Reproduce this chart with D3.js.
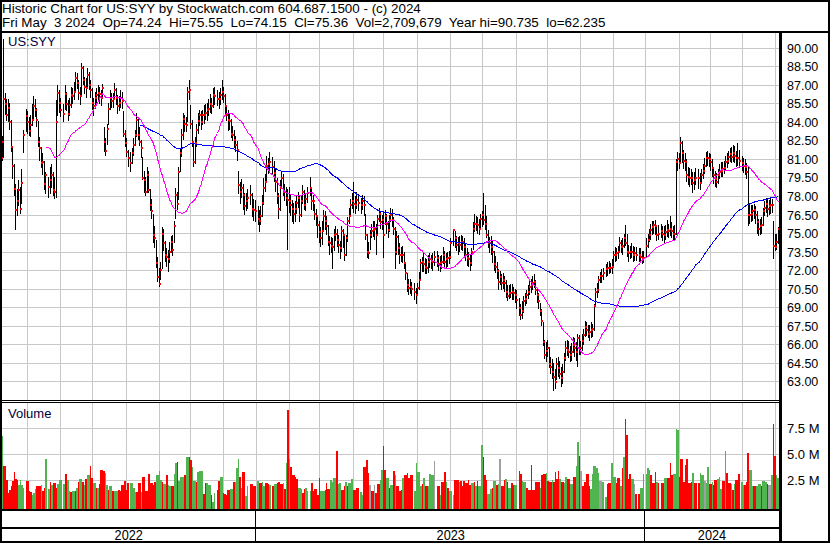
<!DOCTYPE html>
<html>
<head>
<meta charset="utf-8">
<script src="https://cdn.jsdelivr.net/npm/d3@7"></script>
<style>
  body { margin: 0; background: #fff; }
  svg { display: block; }
  text { font-family: Arial, "Liberation Sans", sans-serif; }
</style>
</head>
<body>
<div id="chart"></div>
<script>
const title = 'Historic Chart for US:SYY by Stockwatch.com 604.687.1500 - (c) 2024'
const quoteLine = 'Fri May  3 2024  Op=74.24  Hi=75.55  Lo=74.15  Cl=75.36  Vol=2,709,679  Year hi=90.735  lo=62.235'
const symbol = 'US:SYY'
const startDate = '2022-05-06'
const endDate = '2024-05-03'
const holidays = ['2022-05-30', '2022-06-20', '2022-07-04', '2022-09-05', '2022-11-24', '2022-12-26',
    '2023-01-02', '2023-01-16', '2023-02-20', '2023-04-07', '2023-05-29', '2023-06-19', '2023-07-04',
    '2023-09-04', '2023-11-23', '2023-12-25', '2024-01-01', '2024-01-15', '2024-02-19', '2024-03-29']
const priceTicks = [63, 64.5, 66, 67.5, 69, 70.5, 72, 73.5, 75, 76.5, 78, 79.5, 81, 82.5, 84, 85.5, 87, 88.5, 90]
const volTicks = [2.5, 5.0, 7.5]
const years = ['2022', '2023', '2024']

// daily closes, highs, lows (US$)
const closes = [
    81.1, 82.4, 85.9, 85.5, 84.6, 85.2, 84.0, 82.0, 80.5, 78.6,
    76.9, 77.6, 78.5, 77.0, 79.1, 83.0, 84.5, 84.0, 83.3, 83.8,
    84.2, 85.3, 85.0, 84.2, 82.4, 81.9, 80.7, 80.8, 79.0, 79.7,
    78.8, 79.3, 79.7, 78.5, 78.4, 84.0, 86.35, 85.6, 85.0, 84.7,
    86.3, 85.5, 84.7, 85.4, 86.2, 86.1, 86.5, 87.6, 87.2, 86.4,
    86.1, 88.4, 87.4, 86.9, 86.8, 87.8, 87.0, 86.6, 85.6, 85.3,
    86.0, 86.2, 86.4, 86.3, 86.0, 86.8, 82.4, 81.7, 83.5, 85.1,
    86.0, 85.7, 85.9, 86.6, 86.0, 85.3, 85.6, 86.0, 85.7, 83.1,
    82.3, 81.6, 81.1, 80.7, 81.5, 82.2, 83.0, 84.2, 83.0, 82.4,
    81.9, 79.5, 79.3, 78.4, 79.7, 78.5, 77.3, 76.8, 74.9, 74.6,
    72.6, 71.5, 70.9, 72.05, 75.0, 74.2, 73.3, 73.1, 72.9, 73.5,
    74.3, 73.7, 75.6, 78.1, 77.4, 80.0, 81.5, 83.0, 84.3, 83.9,
    83.8, 86.5, 86.6, 83.9, 82.4, 80.8, 82.3, 83.4, 84.1, 84.6,
    84.0, 84.6, 84.6, 84.8, 85.0, 85.1, 85.5, 85.3, 86.2, 86.1,
    85.9, 85.9, 86.2, 86.5, 86.1, 85.3, 84.6, 84.2, 84.1, 83.1,
    83.0, 82.6, 82.2, 81.8, 78.9, 78.4, 78.7, 78.1, 77.2, 77.6,
    77.9, 78.1, 77.0, 76.9, 76.8, 76.2, 76.0, 76.4, 77.5, 78.7,
    79.2, 80.5, 80.6, 80.8, 80.4, 79.9, 79.2, 78.0, 77.0, 78.7,
    79.5, 78.4, 78.4, 77.9, 77.7, 77.6, 77.3, 77.0, 76.6, 77.0,
    77.5, 77.9, 76.5, 77.6, 78.4, 77.3, 77.8, 78.3, 78.7, 77.6,
    77.6, 76.6, 76.4, 75.7, 75.1, 74.6, 75.2, 76.4, 76.0, 75.6,
    74.3, 74.2, 74.0, 73.9, 74.9, 75.0, 74.5, 74.1, 73.8, 75.2,
    74.9, 73.3, 74.6, 76.0, 76.4, 77.3, 77.6, 77.4, 77.3, 77.7,
    77.5, 77.3, 77.6, 77.3, 74.9, 73.5, 73.4, 74.9, 75.2, 75.3,
    75.4, 74.9, 76.2, 76.6, 75.9, 76.1, 74.9, 76.4, 75.8, 75.3,
    76.1, 76.5, 76.1, 75.4, 73.5, 74.7, 73.8, 73.3, 73.3, 73.3,
    72.6, 71.8, 70.8, 70.6, 70.7, 70.5, 70.3, 70.0, 70.6, 71.2,
    72.6, 72.7, 72.5, 72.3, 72.2, 72.7, 72.9, 72.8, 72.7, 73.1,
    73.0, 72.5, 72.6, 72.7, 73.3, 72.7, 72.9, 73.0, 73.1, 74.2,
    75.3, 74.6, 74.1, 74.2, 74.1, 74.3, 74.3, 73.9, 73.3, 73.0,
    72.9, 72.6, 73.5, 75.4, 75.8, 75.8, 75.7, 75.4, 76.2, 76.5,
    76.1, 75.8, 74.9, 74.2, 74.2, 73.9, 73.5, 72.5, 72.3, 72.0,
    71.1, 71.5, 71.0, 71.2, 71.0, 70.3, 69.9, 70.2, 70.2, 70.3,
    70.2, 70.0, 69.6, 69.0, 68.4, 68.7, 69.5, 69.7, 70.0, 70.3,
    70.7, 70.8, 71.0, 71.1, 70.4, 70.0, 69.5, 68.7, 67.9, 66.2,
    65.2, 65.5, 65.7, 64.4, 64.2, 63.8, 63.4, 63.0, 64.4, 64.1,
    63.6, 63.3, 63.8, 64.9, 65.7, 65.6, 65.4, 65.2, 65.4, 66.0,
    65.7, 65.4, 66.5, 65.7, 65.7, 66.3, 66.8, 67.4, 67.2, 66.9,
    67.0, 67.2, 67.3, 69.1, 70.3, 70.4, 71.2, 71.6, 71.6, 71.8,
    72.1, 72.2, 72.2, 72.2, 72.3, 73.3, 73.3, 73.4, 73.5, 74.2,
    73.9, 74.0, 74.6, 74.2, 73.5, 73.4, 73.5, 73.5, 73.3, 73.4,
    73.3, 73.3, 73.1, 73.0, 73.0, 74.0, 74.5, 74.9, 75.3, 75.5,
    75.7, 75.6, 74.9, 75.0, 75.2, 75.0, 74.9, 75.1, 75.3, 75.2,
    75.4, 75.2, 75.0, 75.0, 80.8, 81.0, 80.7, 82.3, 81.5, 80.9,
    80.8, 79.7, 79.6, 79.5, 79.5, 79.1, 79.3, 79.5, 79.5, 79.1,
    79.7, 80.1, 80.5, 81.1, 81.1, 81.0, 80.8, 80.3, 79.7, 79.4,
    79.2, 79.7, 80.0, 80.1, 80.2, 80.3, 80.8, 80.9, 81.2, 81.4,
    81.2, 81.5, 81.3, 81.1, 81.1, 80.9, 80.7, 80.5, 80.4, 80.0,
    76.5, 76.5, 76.6, 76.8, 76.9, 76.5, 75.9, 75.4, 75.6, 75.7,
    76.8, 77.1, 77.4, 77.0, 77.2, 77.3, 77.3, 74.0, 73.9, 74.3,
    75.36
]
const highs = [
    83.0, 82.9, 90.735, 86.4, 85.9, 85.9, 85.6, 84.2, 82.0, 80.6,
    79.0, 78.6, 79.3, 78.8, 80.2, 83.4, 85.1, 84.9, 84.4, 84.6,
    85.5, 86.1, 85.9, 85.2, 84.1, 82.8, 82.0, 81.5, 80.9, 80.0,
    79.6, 80.4, 80.6, 80.0, 79.6, 85.8, 87.0, 86.6, 86.0, 85.5,
    87.0, 86.5, 85.8, 86.0, 86.9, 86.8, 87.3, 88.1, 88.0, 87.4,
    86.9, 88.85, 88.6, 87.7, 87.6, 88.4, 88.1, 87.4, 86.8, 86.0,
    86.5, 86.8, 87.0, 86.9, 86.6, 87.1, 83.6, 82.7, 83.9, 85.6,
    86.6, 86.4, 86.4, 87.2, 86.8, 86.2, 86.1, 86.6, 86.5, 84.9,
    83.4, 82.7, 81.8, 81.6, 81.9, 82.7, 83.4, 84.8, 84.4, 83.6,
    82.6, 81.2, 80.1, 79.6, 80.4, 80.1, 78.6, 77.8, 76.6, 75.6,
    74.5, 73.1, 72.2, 72.7, 75.5, 75.4, 74.4, 73.8, 73.7, 74.3,
    74.8, 74.9, 76.0, 78.7, 78.4, 80.4, 81.9, 83.5, 84.8, 84.6,
    84.4, 86.9, 87.4, 85.4, 84.2, 82.3, 82.8, 83.9, 84.8, 85.0,
    84.9, 85.0, 85.4, 85.5, 85.6, 85.9, 86.3, 86.0, 86.8, 86.9,
    86.6, 86.5, 86.8, 87.4, 86.9, 86.3, 85.4, 85.0, 84.7, 84.3,
    83.7, 83.4, 82.9, 82.5, 80.1, 79.2, 79.4, 79.0, 78.3, 78.3,
    78.6, 78.9, 78.3, 77.8, 77.7, 77.2, 76.9, 77.2, 78.1, 79.5,
    79.8, 81.3, 81.1, 81.6, 81.2, 80.9, 80.3, 79.5, 78.3, 79.3,
    80.1, 79.8, 79.0, 78.8, 78.6, 78.8, 78.2, 77.7, 77.5, 77.6,
    78.1, 78.4, 78.0, 78.0, 78.9, 78.5, 78.3, 78.8, 79.6, 78.8,
    78.1, 77.4, 77.0, 76.5, 76.0, 75.5, 76.0, 76.9, 76.8, 76.4,
    75.7, 74.8, 74.7, 74.6, 75.4, 75.6, 75.4, 74.9, 74.4, 75.6,
    75.4, 74.9, 74.9, 76.3, 77.1, 77.8, 78.3, 79.2, 78.0, 78.4,
    78.2, 77.9, 78.1, 78.0, 76.6, 75.0, 74.3, 75.3, 75.8, 76.0,
    76.0, 75.8, 76.5, 77.1, 76.8, 76.5, 76.8, 76.9, 76.6, 76.0,
    76.5, 77.1, 77.0, 76.3, 75.5, 75.2, 74.9, 74.2, 73.9, 74.0,
    73.5, 72.6, 71.8, 71.3, 71.3, 71.1, 71.0, 70.6, 71.0, 71.9,
    72.9, 73.1, 73.4, 73.0, 72.9, 73.3, 73.4, 73.3, 73.4, 73.6,
    73.6, 73.3, 73.2, 73.3, 73.9, 73.6, 73.4, 73.5, 73.6, 74.6,
    75.4, 75.2, 74.8, 74.7, 74.8, 74.9, 74.8, 74.6, 74.2, 73.8,
    73.5, 73.3, 73.8, 75.9, 76.6, 76.4, 76.3, 76.2, 76.6, 76.8,
    78.25, 77.3, 76.4, 75.3, 74.7, 74.8, 74.4, 73.6, 73.2, 72.7,
    72.1, 72.0, 71.7, 71.8, 71.6, 71.2, 70.8, 70.8, 70.9, 70.9,
    70.7, 70.5, 70.4, 69.8, 69.3, 69.5, 69.9, 70.2, 70.4, 70.8,
    71.3, 71.3, 71.6, 71.7, 71.2, 70.6, 70.2, 69.4, 68.9, 67.8,
    66.4, 66.2, 66.4, 65.8, 65.0, 64.8, 64.5, 64.0, 64.9, 65.0,
    64.7, 64.2, 64.4, 65.3, 66.3, 66.4, 66.3, 65.9, 66.1, 66.6,
    66.5, 66.2, 66.9, 66.8, 66.3, 66.9, 67.3, 67.9, 67.8, 67.6,
    67.6, 67.8, 67.7, 69.3, 70.6, 71.0, 71.6, 71.9, 72.1, 72.2,
    72.5, 72.7, 72.8, 72.6, 72.9, 73.6, 73.9, 73.8, 74.0, 74.7,
    74.5, 74.6, 75.0, 75.7, 75.0, 74.1, 74.0, 74.2, 74.0, 73.9,
    73.9, 73.8, 73.8, 73.6, 73.6, 74.6, 75.0, 75.4, 75.8, 76.0,
    76.0, 76.1, 75.7, 75.7, 75.8, 75.6, 75.6, 75.7, 76.1, 75.8,
    76.4, 75.9, 75.6, 75.7, 81.0, 81.6, 81.5, 82.85, 82.5, 81.8,
    81.5, 81.0, 80.4, 80.3, 80.2, 80.0, 80.0, 80.3, 80.2, 79.9,
    80.2, 80.6, 81.1, 81.6, 81.7, 81.5, 81.4, 81.0, 80.4, 80.1,
    79.9, 80.2, 80.6, 80.8, 80.8, 80.9, 81.3, 81.5, 81.7, 81.9,
    82.0, 82.2, 82.1, 81.7, 82.3, 81.8, 81.3, 81.1, 81.0, 80.7,
    80.4, 77.4, 77.3, 77.3, 77.4, 77.2, 76.8, 76.2, 76.2, 76.3,
    77.1, 77.6, 77.9, 77.8, 77.7, 77.9, 77.8, 76.0, 75.0, 75.0,
    75.55
]
const lows = [
    80.6, 80.9, 81.1, 84.6, 84.1, 84.0, 83.4, 81.6, 79.4, 78.0,
    75.3, 76.4, 77.2, 76.6, 77.4, 81.5, 83.2, 83.1, 82.9, 82.8,
    83.7, 84.3, 84.4, 83.6, 82.0, 80.9, 80.3, 79.7, 78.5, 78.2,
    77.9, 78.2, 78.7, 78.0, 77.8, 77.9, 84.5, 84.8, 84.4, 84.0,
    85.0, 84.9, 84.1, 84.5, 85.2, 85.5, 85.8, 86.4, 86.7, 85.8,
    85.4, 86.1, 87.0, 86.3, 86.0, 86.7, 86.6, 86.0, 85.0, 84.5,
    85.1, 85.6, 85.8, 85.5, 85.3, 85.9, 81.6, 81.3, 82.2, 83.8,
    85.0, 85.2, 85.2, 85.9, 85.4, 84.7, 84.9, 85.2, 85.1, 82.8,
    82.0, 81.2, 80.4, 80.0, 80.6, 81.3, 82.1, 82.8, 82.6, 82.1,
    81.1, 79.3, 78.3, 78.0, 78.3, 78.3, 76.8, 76.2, 74.2, 73.8,
    72.2, 71.1, 70.65, 71.2, 72.1, 73.6, 72.7, 72.3, 71.9, 72.6,
    73.4, 73.2, 74.2, 76.2, 76.9, 77.7, 80.0, 81.2, 82.6, 83.2,
    83.2, 84.0, 85.8, 83.5, 82.0, 80.4, 80.6, 82.0, 83.1, 83.7,
    83.4, 83.8, 83.9, 84.2, 84.1, 84.5, 84.8, 84.7, 85.2, 85.4,
    85.3, 85.1, 85.4, 85.8, 85.6, 84.6, 84.1, 83.3, 83.4, 82.7,
    82.5, 81.9, 81.6, 80.9, 78.2, 77.4, 77.9, 76.9, 76.5, 76.8,
    77.0, 77.3, 76.3, 76.0, 75.9, 75.7, 75.1, 75.7, 76.3, 77.3,
    78.4, 79.1, 79.8, 80.1, 79.8, 79.2, 78.4, 77.4, 76.2, 76.8,
    78.6, 78.0, 77.6, 77.2, 73.7, 76.7, 76.4, 75.9, 75.8, 75.9,
    76.6, 77.1, 75.9, 76.3, 77.4, 76.9, 76.8, 77.5, 78.0, 76.9,
    76.8, 76.1, 75.6, 74.6, 74.2, 73.9, 74.1, 75.1, 75.3, 74.9,
    74.0, 73.3, 73.4, 72.1, 73.6, 74.4, 73.9, 73.4, 72.9, 73.5,
    73.8, 72.8, 73.2, 74.3, 75.8, 76.4, 77.0, 76.7, 76.6, 77.0,
    76.8, 76.6, 76.9, 76.4, 74.5, 73.0, 72.9, 73.7, 74.6, 74.7,
    74.5, 73.3, 74.8, 75.9, 75.4, 75.3, 73.0, 75.7, 75.0, 74.6,
    75.1, 75.9, 75.5, 74.9, 72.1, 73.3, 73.3, 72.5, 72.7, 72.6,
    72.1, 71.2, 70.3, 70.0, 70.1, 69.9, 69.6, 69.3, 69.9, 70.4,
    71.3, 71.9, 71.9, 71.7, 71.7, 71.8, 72.2, 72.1, 72.0, 72.4,
    72.3, 72.0, 71.9, 72.1, 72.5, 72.1, 72.2, 72.3, 72.5, 72.9,
    74.0, 73.8, 73.6, 73.3, 73.5, 73.7, 73.6, 73.1, 72.8, 72.4,
    72.3, 72.0, 72.4, 73.7, 75.1, 75.2, 75.0, 74.9, 75.4, 75.5,
    75.7, 75.3, 74.6, 73.8, 73.4, 73.3, 72.6, 72.0, 71.8, 71.3,
    70.4, 70.8, 70.4, 70.5, 70.3, 69.8, 69.5, 69.7, 69.8, 69.6,
    69.6, 69.4, 68.9, 68.3, 68.0, 68.1, 68.6, 69.1, 69.3, 69.7,
    70.0, 70.2, 70.4, 70.6, 70.0, 69.4, 68.9, 68.3, 67.5, 65.9,
    64.8, 64.6, 65.0, 64.1, 63.6, 63.2, 62.235, 62.4, 63.1, 63.4,
    63.2, 62.6, 62.8, 63.7, 64.7, 65.1, 64.9, 64.6, 64.7, 65.3,
    65.0, 64.7, 64.2, 65.2, 65.2, 65.5, 66.0, 66.6, 66.7, 66.5,
    66.3, 66.5, 66.6, 67.1, 69.1, 69.8, 70.2, 71.0, 71.0, 71.2,
    71.5, 71.6, 71.7, 71.8, 71.7, 72.2, 72.7, 72.8, 72.9, 73.4,
    73.4, 73.3, 73.8, 74.0, 73.1, 72.7, 72.9, 73.0, 72.7, 72.8,
    72.8, 72.7, 72.6, 72.5, 72.6, 73.0, 73.8, 74.3, 74.5, 74.9,
    75.0, 74.9, 74.4, 74.5, 74.6, 74.4, 74.2, 74.5, 74.7, 74.6,
    74.8, 74.6, 74.4, 74.5, 74.9, 80.1, 80.2, 80.6, 80.7, 80.2,
    80.1, 79.2, 78.9, 78.8, 78.9, 78.3, 78.5, 78.9, 78.6, 78.5,
    79.0, 79.4, 79.8, 80.4, 80.5, 80.4, 80.1, 79.6, 79.0, 78.8,
    78.7, 79.0, 79.4, 79.6, 79.6, 79.8, 80.1, 80.3, 80.6, 80.8,
    80.7, 80.8, 80.7, 80.4, 80.5, 80.3, 80.1, 79.9, 79.7, 79.4,
    75.6, 75.8, 75.9, 76.0, 76.2, 75.8, 75.0, 74.8, 74.9, 75.0,
    75.6, 76.4, 76.7, 76.3, 76.5, 76.6, 76.7, 72.9, 73.6, 73.7,
    74.15
]
// daily volume, millions of shares
const volumes = [
    3.4, 6.8, 3.9, 3.9, 2.6, 1.3, 1.6, 1.95, 2.5, 3.3,
    2.7, 2.6, 2.1, 2.6, 2.1, 1.8, 2.5, 2.5, 1.5, 1.4,
    1.1, 1.3, 1.7, 2.0, 2.0, 1.95, 2.1, 1.5, 1.8, 4.6,
    1.7, 2.35, 2.1, 2.25, 2.25, 1.85, 2.2, 2.6, 2.6, 2.2,
    3.1, 3.1, 2.6, 1.5, 1.4, 1.5, 1.5, 1.5, 1.8, 2.4,
    2.7, 2.7, 2.35, 2.1, 2.65, 3.0, 3.0, 3.9, 2.8, 2.25,
    2.25, 1.8, 1.8, 2.2, 3.5, 3.5, 3.4, 3.2, 2.1, 1.6,
    1.95, 1.95, 1.5, 1.5, 1.5, 1.5, 1.6, 1.5, 2.1, 2.1,
    2.5, 1.6, 2.25, 2.25, 2.25, 1.85, 1.4, 1.4, 2.25, 2.25,
    1.4, 2.9, 2.9, 1.5, 1.5, 3.1, 2.25, 2.25, 2.1, 2.35,
    3.0, 3.0, 3.4, 2.6, 2.35, 2.2, 2.2, 3.0, 2.1, 2.0,
    2.0, 2.0, 3.1, 4.2, 4.3, 2.5, 2.9, 2.9, 2.9, 3.0,
    4.8, 4.8, 4.8, 4.5, 3.8, 2.5, 2.5, 2.35, 3.3, 3.4,
    3.4, 3.4, 1.2, 2.25, 2.25, 2.1, 2.1, 1.1, 0.5, 1.3,
    1.6, 2.5, 2.9, 2.9, 1.3, 1.2, 1.1, 1.6, 1.6, 1.7,
    1.7, 2.4, 2.4, 3.7, 4.6, 2.9, 1.85, 3.3, 3.3, 1.0,
    2.0, 2.2, 2.2, 1.95, 1.95, 2.5, 2.25, 2.25, 2.4, 1.95,
    2.25, 2.25, 2.2, 2.1, 1.95, 2.2, 2.2, 2.25, 2.35, 2.2,
    2.2, 2.25, 1.7, 4.2, 9.2, 4.6, 3.8, 3.0, 3.0, 2.9,
    2.65, 1.85, 1.85, 1.7, 1.3, 1.7, 1.8, 1.5, 1.5, 2.25,
    1.5, 1.7, 1.7, 1.1, 2.8, 1.5, 1.5, 1.5, 1.6, 2.25,
    1.7, 1.7, 2.6, 2.4, 2.8, 2.8, 5.3, 2.2, 2.25, 1.6,
    1.6, 1.95, 2.35, 1.95, 2.25, 2.25, 2.65, 1.6, 1.6, 1.85,
    1.85, 1.4, 1.1, 3.8, 3.8, 4.5, 3.2, 2.1, 1.5, 1.5,
    2.1, 1.3, 2.2, 2.2, 2.6, 3.5, 5.8, 3.5, 2.8, 2.8,
    1.8, 2.1, 2.1, 3.4, 3.0, 1.95, 1.95, 1.5, 1.6, 2.8,
    3.0, 3.0, 3.2, 2.8, 3.0, 3.0, 1.5, 4.2, 3.3, 3.3,
    2.0, 2.2, 2.8, 2.0, 2.0, 2.0, 3.1, 3.0, 3.0, 4.4,
    1.95, 1.95, 1.1, 2.35, 2.35, 3.3, 2.35, 1.8, 1.5, 1.5,
    1.1, 2.6, 2.6, 2.6, 2.35, 2.5, 1.95, 2.5, 2.25, 2.25,
    2.6, 2.1, 2.25, 2.25, 2.35, 2.0, 2.5, 2.0, 2.0, 5.9,
    4.8, 3.0, 2.6, 1.2, 1.2, 1.7, 1.8, 2.5, 2.5, 2.1,
    2.2, 4.6, 1.95, 1.95, 2.6, 2.65, 2.35, 1.8, 1.8, 2.25,
    2.1, 2.1, 2.1, 3.4, 3.1, 2.5, 2.35, 2.35, 1.8, 1.6,
    1.6, 4.0, 1.6, 1.6, 2.35, 2.35, 2.35, 1.8, 3.0, 3.1,
    3.1, 3.2, 2.5, 2.35, 2.35, 2.6, 2.4, 3.3, 2.7, 3.4,
    2.7, 2.35, 2.35, 2.25, 2.9, 2.7, 2.7, 2.2, 2.2, 2.9,
    2.9, 3.9, 6.2, 4.9, 3.4, 2.0, 2.0, 2.35, 3.1, 3.1,
    1.95, 1.7, 3.1, 3.9, 3.9, 3.7, 3.2, 2.5, 2.5, 2.35,
    0.9, 2.2, 2.25, 2.25, 4.2, 2.9, 2.9, 2.25, 2.8, 2.8,
    2.0, 3.7, 4.8, 8.4, 6.9, 2.65, 3.1, 2.7, 2.7, 2.2,
    1.2, 1.2, 1.85, 1.85, 3.1, 3.1, 3.7, 3.5, 3.0, 2.25,
    2.25, 3.3, 2.35, 2.25, 2.25, 2.25, 2.8, 2.8, 2.8, 2.8,
    4.2, 3.0, 3.1, 3.1, 7.4, 7.3, 2.9, 4.6, 4.6, 2.4,
    4.0, 4.6, 2.25, 2.25, 2.35, 3.2, 2.25, 2.25, 2.25, 3.2,
    3.0, 3.0, 2.5, 2.25, 3.8, 2.2, 2.2, 2.4, 2.1, 2.6,
    2.6, 2.7, 2.9, 1.7, 2.5, 2.5, 5.3, 3.2, 2.25, 2.25,
    2.2, 1.6, 2.2, 2.6, 2.6, 3.1, 2.35, 2.1, 2.1, 2.35,
    5.1, 3.5, 3.5, 2.0, 2.0, 2.0, 2.0, 2.2, 2.2, 2.0,
    2.5, 2.5, 2.35, 2.2, 2.1, 2.1, 3.0, 7.9, 4.9, 3.0,
    2.71
]
// volume bar colour per day: g = up, r = down, n = unchanged
const volDir = [
    'rgrrrrrrrr', 'rrggggrrrr', 'gggrrrgrrg', 'grgrrrgggg', 'rrggrggrgr',
    'ggrgrggrrg', 'grgrrrrggr', 'ggrgggrrrr', 'rrrggggrrr', 'grrrrrrrrr',
    'ggggrggrgg', 'rrggrggggr', 'ggrrgggrgg', 'ggrrgggrgg', 'rrggrrrrrg',
    'grgggrgrrg', 'grrrrgrrgg', 'rrrgrggrrr', 'rgrgrgrrrr', 'rgggrrgggr',
    'rrrrrgggrr', 'rrggggrggr', 'rrgrgggrrr', 'rggrrrrnrr', 'nrrrggrrgg',
    'rggrgrrrrg', 'rrrrrrgggg', 'grgrrggggn', 'rrgrrrgrgg', 'grrrgrrrrr',
    'rrggrgrggg', 'rrrgggrggr', 'gnrrrgrggr', 'rggrrgggrr', 'rrrrrrrgrr',
    'rgrrrgrrrr', 'grrggrrggr', 'rggrnrrrrr', 'rggggggnng', 'grrrgggrrr',
    'grgrrrrggn', 'rrggggggrr', 'rrgrrrggrr', 'rrggggrrrr', 'rrrrrgrrrg',
    'ggnggrrgrr', 'rgggrrgrrr', 'grgrrrggrr', 'rgggrrgggr', 'gggrnngrrg',
    'g'
].join('')

const W = 830, H = 543
const priceTop = 32.5, priceBot = 400, volTop = 403, volBot = 508.5
const plotRight = 779.5

// trading calendar: every weekday gets a slot, holidays stay empty
const parse = d3.timeParse('%Y-%m-%d')
const fmt = d3.timeFormat('%Y-%m-%d')
const hol = new Set(holidays)
const weekdays = d3.timeDay.range(parse(startDate), d3.timeDay.offset(parse(endDate), 1))
    .filter(d => d.getDay() !== 0 && d.getDay() !== 6)
const slots = []
weekdays.forEach((d, i) => { if (!hol.has(fmt(d))) slots.push(i) })
const monthStarts = weekdays.map((d, i) => i).filter(i => i > 0 && weekdays[i].getMonth() !== weekdays[i - 1].getMonth())
const yearStarts = monthStarts.filter(i => weekdays[i].getMonth() === 0)

const x = d3.scaleLinear().domain([0, weekdays.length - 1]).range([1, 778])
const y = d3.scaleLinear().domain([63, 90]).range([381.7, 48.3])
const yv = d3.scaleLinear().domain([0, 7.5]).range([506.9, 428.3])
const px = i => Math.floor(x(i)) + 0.5
const step = x(1) - x(0)

const days = closes.map((c, k) => ({
    slot: slots[k], c, h: highs[k], l: lows[k], v: volumes[k], dir: volDir[k]
}))

function sma(n) {
    const out = []
    for (let k = n - 1; k < closes.length; k++) {
        out.push({ slot: slots[k], v: d3.mean(closes.slice(k - n + 1, k + 1)) })
    }
    return out
}

const svg = d3.select('#chart').append('svg')
    .attr('width', W).attr('height', H)
    .attr('shape-rendering', 'crispEdges')

svg.append('rect').attr('width', W).attr('height', H).attr('fill', '#fff')

// header
svg.append('text').attr('x', 2).attr('y', 13).attr('font-size', '13.4px')
    .style('white-space', 'pre').attr('fill', '#000').text(title)
svg.append('text').attr('x', 2).attr('y', 27).attr('font-size', '13.4px')
    .style('white-space', 'pre').attr('fill', '#000').text(quoteLine)

// gridlines
const grid = svg.append('g').attr('stroke', '#c8c8c8').attr('stroke-width', 1)
monthStarts.forEach(i => {
    grid.append('line').attr('x1', px(i)).attr('x2', px(i)).attr('y1', priceTop).attr('y2', priceBot)
    grid.append('line').attr('x1', px(i)).attr('x2', px(i)).attr('y1', volTop).attr('y2', volBot)
})
priceTicks.forEach(t => {
    const yy = Math.floor(y(t)) + 0.5
    grid.append('line').attr('x1', 1).attr('x2', plotRight).attr('y1', yy).attr('y2', yy)
})
volTicks.forEach(t => {
    const yy = Math.floor(yv(t)) + 0.5
    grid.append('line').attr('x1', 1).attr('x2', plotRight).attr('y1', yy).attr('y2', yy)
})

// panel labels
svg.append('text').attr('x', 8).attr('y', 45.5).attr('font-size', '13px').attr('fill', '#00003c').text(symbol)
svg.append('text').attr('x', 8).attr('y', 418).attr('font-size', '13px').attr('fill', '#00003c').text('Volume')

// volume bars
const volColor = { g: '#50b450', r: '#ff0000', n: '#a0a0a0' }
svg.append('g').selectAll('rect')
    .data(days).join('rect')
    .attr('x', d => x(d.slot) - step / 2)
    .attr('width', step)
    .attr('y', d => yv(d.v))
    .attr('height', d => volBot - yv(d.v))
    .attr('fill', d => volColor[d.dir])

// price bars
svg.append('g').selectAll('line')
    .data(days).join('line')
    .attr('x1', d => px(d.slot)).attr('x2', d => px(d.slot))
    .attr('y1', d => y(d.h)).attr('y2', d => Math.max(y(d.l), y(d.h) + 1))
    .attr('stroke', '#000').attr('stroke-width', 1)

svg.append('g').selectAll('rect')
    .data(days).join('rect')
    .attr('x', d => px(d.slot) - 0.5)
    .attr('y', d => Math.round(y(d.c)) - 1)
    .attr('width', 2).attr('height', 2)
    .attr('fill', '#ff0000')

// moving averages
const line = d3.line().x(d => px(d.slot)).y(d => y(d.v))
svg.append('path').datum(sma(90)).attr('d', line)
    .attr('fill', 'none').attr('stroke', '#0000ff').attr('stroke-width', 1)
svg.append('path').datum(sma(30)).attr('d', line)
    .attr('fill', 'none').attr('stroke', '#ff00ff').attr('stroke-width', 1)

// right axes
const priceAxis = svg.append('g').attr('transform', 'translate(787,0)')
    .call(d3.axisRight(y).tickValues(priceTicks).tickFormat(d3.format('.2f')).tickSize(0).tickPadding(0))
priceAxis.select('.domain').remove()
priceAxis.selectAll('text').attr('font-size', '12.5px').attr('fill', '#000')
    .attr('font-family', 'Arial, "Liberation Sans", sans-serif')

const volAxis = svg.append('g').attr('transform', 'translate(787,0)')
    .call(d3.axisRight(yv).tickValues(volTicks).tickFormat(d => d3.format('.1f')(d) + ' M').tickSize(0).tickPadding(0))
volAxis.select('.domain').remove()
volAxis.selectAll('text').attr('font-size', '13px').attr('fill', '#000')
    .attr('font-family', 'Arial, "Liberation Sans", sans-serif')

// frame
const frame = svg.append('g').attr('fill', '#000')
frame.append('rect').attr('x', 0).attr('y', 30.5).attr('width', W).attr('height', 2)
frame.append('rect').attr('x', 779).attr('y', 31).attr('width', 2.5).attr('height', H - 31)
frame.append('rect').attr('x', 0).attr('y', 400).attr('width', 780).attr('height', 1)
frame.append('rect').attr('x', 0).attr('y', 402).attr('width', 780).attr('height', 1)
frame.append('rect').attr('x', 0).attr('y', 508.5).attr('width', 780).attr('height', 2)
frame.append('rect').attr('x', 0).attr('y', 526.5).attr('width', 780).attr('height', 2)
svg.append('rect').attr('x', 1).attr('y', 1).attr('width', W - 2).attr('height', H - 2)
    .attr('fill', 'none').attr('stroke', '#000').attr('stroke-width', 2)

// year cells
const yearEdges = [1].concat(yearStarts.map(i => x(i)), [779])
yearStarts.forEach(i => {
    frame.append('rect').attr('x', Math.floor(x(i)) - 1).attr('y', 510).attr('width', 1).attr('height', 31)
})
years.forEach((yr, k) => {
    const cx = (yearEdges[k] + yearEdges[k + 1]) / 2
    svg.append('text')
        .attr('transform', `translate(${cx},540) scale(0.85,1)`)
        .attr('text-anchor', 'middle').attr('font-size', '15px').attr('fill', '#000')
        .text(yr)
})
</script>
</body>
</html>
